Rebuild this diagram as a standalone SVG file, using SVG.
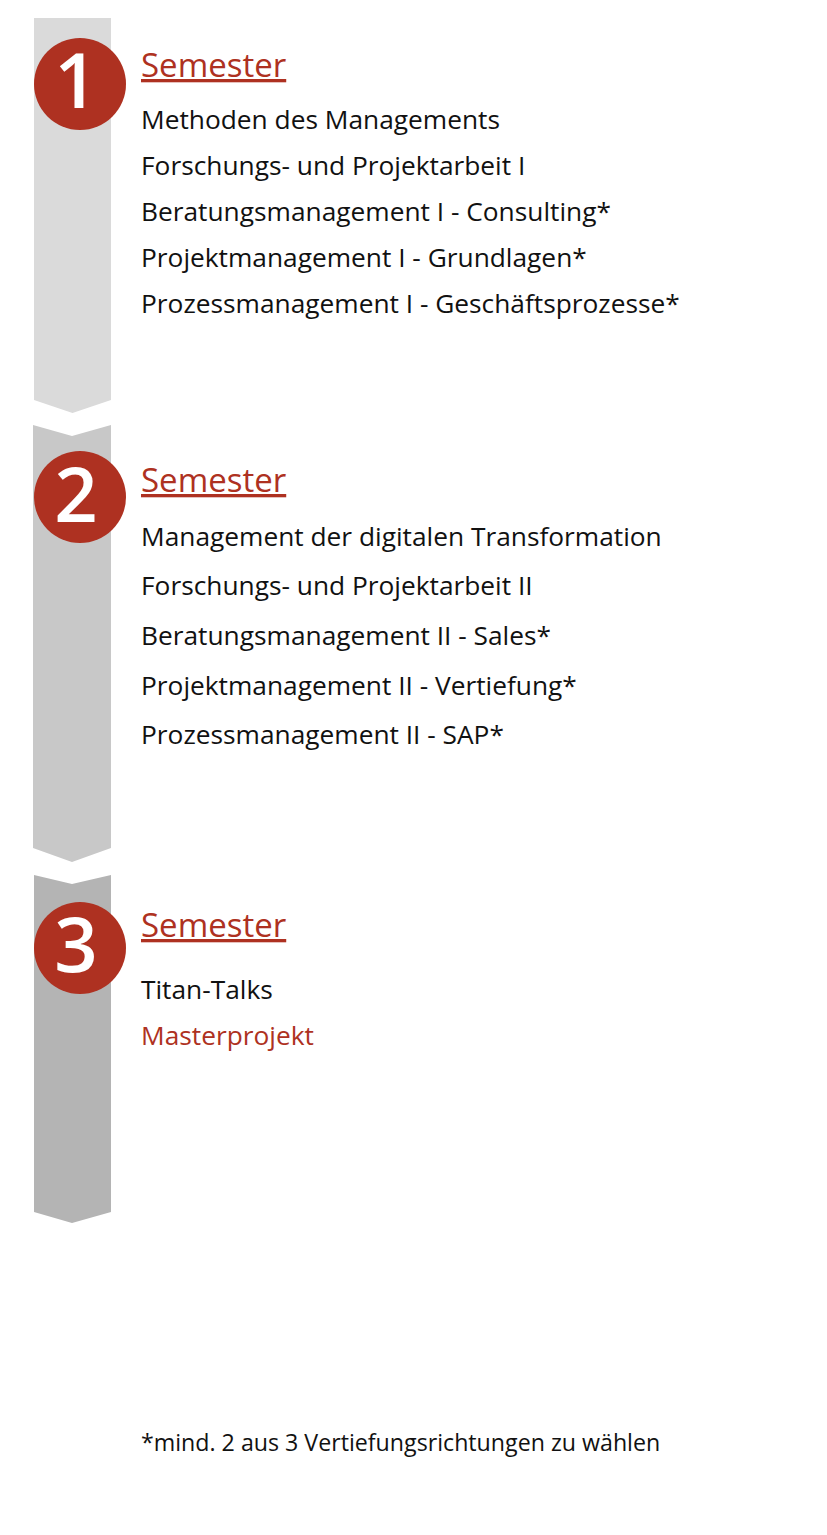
<svg xmlns="http://www.w3.org/2000/svg" width="827" height="1535" viewBox="0 0 827 1535">
  <style>
    .head { font-family: "Open Sans", "Liberation Sans", sans-serif; font-size: 33px; fill: #ae3121; text-decoration: underline; }
    .item { font-family: "Open Sans", "Liberation Sans", sans-serif; font-size: 26.3px; fill: #111111; }
    .red { fill: #ae3121; }
    .num { font-family: "Open Sans", "Liberation Sans", sans-serif; font-size: 76px; font-weight: 600; fill: #ffffff; text-anchor: middle; }
    .circ { fill: #ae3121; }
    .foot { font-family: "Open Sans", "Liberation Sans", sans-serif; font-size: 23.2px; fill: #111111; }
  </style>
  <rect width="827" height="1535" fill="#ffffff"/>

  <g id="semester1">
    <polygon points="34,18 111,18 111,400 72.5,413 34,400" fill="#dadada"/>
    <circle class="circ" cx="80" cy="84" r="46"/>
    <text class="num" x="76" y="108">1</text>
    <text class="head" x="141" y="77">Semester</text>
    <text class="item" x="141" y="129">Methoden des Managements</text>
    <text class="item" x="141" y="175">Forschungs- und Projektarbeit I</text>
    <text class="item" x="141" y="221">Beratungsmanagement I - Consulting*</text>
    <text class="item" x="141" y="267">Projektmanagement I - Grundlagen*</text>
    <text class="item" x="141" y="313">Prozessmanagement I - Geschäftsprozesse*</text>
  </g>

  <g id="semester2">
    <polygon points="33,425 72,436 111,425 111,848 72,862 33,848" fill="#c8c8c8"/>
    <circle class="circ" cx="80" cy="497" r="46"/>
    <text class="num" x="76" y="522">2</text>
    <text class="head" x="141" y="492">Semester</text>
    <text class="item" x="141" y="546">Management der digitalen Transformation</text>
    <text class="item" x="141" y="595">Forschungs- und Projektarbeit II</text>
    <text class="item" x="141" y="645">Beratungsmanagement II - Sales*</text>
    <text class="item" x="141" y="695">Projektmanagement II - Vertiefung*</text>
    <text class="item" x="141" y="744">Prozessmanagement II - SAP*</text>
  </g>

  <g id="semester3">
    <polygon points="34,875 72,884 111,875 111,1212 72,1223 34,1212" fill="#b4b4b4"/>
    <circle class="circ" cx="80" cy="948" r="46"/>
    <text class="num" x="76" y="972">3</text>
    <text class="head" x="141" y="937">Semester</text>
    <text class="item" x="141" y="999">Titan-Talks</text>
    <text class="item red" x="141" y="1045">Masterprojekt</text>
  </g>

  <g id="footnote">
    <text class="foot" x="141" y="1451">*mind. 2 aus 3 Vertiefungsrichtungen zu wählen</text>
  </g>
</svg>
